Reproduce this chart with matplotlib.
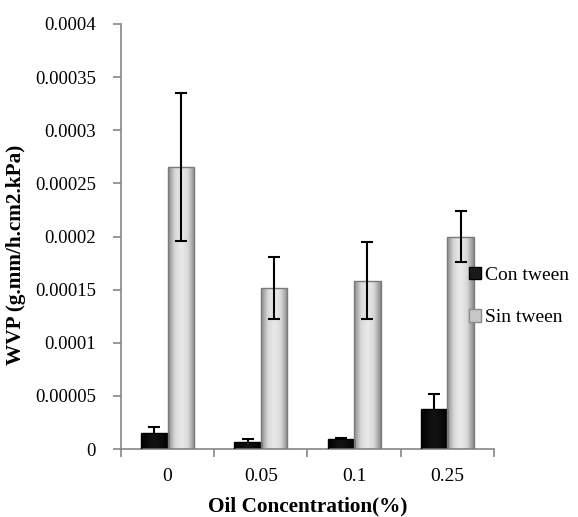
import numpy as np
import matplotlib
matplotlib.use("Agg")
import matplotlib.pyplot as plt
from matplotlib.patches import Patch
from matplotlib.colors import LinearSegmentedColormap

categories = ["0", "0.05", "0.1", "0.25"]
con_tween = [0.0000148, 0.0000069, 0.0000091, 0.0000374]
con_err = [0.0000059, 0.0000022, 0.0000016, 0.0000141]
sin_tween = [0.0002655, 0.0001513, 0.0001585, 0.0002000]
sin_err = [0.0000700, 0.0000290, 0.0000365, 0.0000240]
series_names = ["Con tween", "Sin tween"]

plt.rcParams['font.family'] = ['Liberation Serif', 'DejaVu Serif']

fig = plt.figure(figsize=(5.78, 5.17), dpi=100)
ax = fig.add_axes([0.2093, 0.1315, 0.6454, 0.8221])

x = np.arange(len(categories))
width = 0.284

grey_cmap = LinearSegmentedColormap.from_list("g", ["#8a8a8a", "#d8d8d8", "#eaeaea", "#d8d8d8", "#8a8a8a"])
black_cmap = LinearSegmentedColormap.from_list("b", ["#000000", "#0c0c0c", "#141414", "#0c0c0c", "#000000"])


def shaded_bars(xs, vals, cmap, edge):
    bars = ax.bar(xs, vals, width, color="none", edgecolor=edge, linewidth=1.0, zorder=3)
    grad = np.linspace(0, 1, 64).reshape(1, -1)
    for b in bars:
        x0, y0 = b.get_x(), b.get_y()
        w, h = b.get_width(), b.get_height()
        im = ax.imshow(grad, cmap=cmap, aspect="auto", extent=[x0, x0 + w, y0, y0 + h],
                       zorder=2, interpolation="bilinear")
        im.set_clip_path(b)
    return bars


shaded_bars(x - width / 2, con_tween, black_cmap, "#000000")
shaded_bars(x + width / 2, sin_tween, grey_cmap, "#7a7a7a")

# con tween error bars sit behind the dark bars, so only the upper half shows
ax.errorbar(x - width / 2, con_tween, yerr=con_err, fmt="none", ecolor="black",
            elinewidth=1.5, capsize=4.5, capthick=1.5, zorder=1.5)
ax.errorbar(x + width / 2, sin_tween, yerr=sin_err, fmt="none", ecolor="black",
            elinewidth=1.5, capsize=4.5, capthick=1.5, zorder=4)

ax.set_xlim(-0.5, len(categories) - 0.5)
ax.set_ylim(0, 0.0004)
ax.set_yticks(np.arange(0, 0.00041, 0.00005))
ax.set_yticklabels(["0", "0.00005", "0.0001", "0.00015", "0.0002",
                    "0.00025", "0.0003", "0.00035", "0.0004"])
ax.set_xticks(x)
ax.set_xticklabels(categories)
ax.set_xticks(np.arange(-0.5, len(categories), 1.0), minor=True)

for s in ["top", "right"]:
    ax.spines[s].set_visible(False)
for s in ["left", "bottom"]:
    ax.spines[s].set_color("#868686")
    ax.spines[s].set_linewidth(1.2)

ax.tick_params(axis="y", direction="out", length=6, width=1.2, color="#868686",
               labelsize=13.5, pad=12)
ax.tick_params(axis="x", which="major", length=0, labelsize=14, pad=14)
ax.tick_params(axis="x", which="minor", direction="out", length=6, width=1.2, color="#868686")

ax.set_xlabel("Oil Concentration(%)", fontsize=15.3, fontweight="bold", labelpad=8)
ax.set_ylabel("WVP (g.mm/h.cm2.kPa)", fontsize=15.3, fontweight="bold")
ax.yaxis.set_label_coords(-0.255, 0.456)

handles = [Patch(facecolor="#1a1a1a", edgecolor="#000000"),
           Patch(facecolor="#c8c8c8", edgecolor="#8a8a8a")]
fig.legend(handles, series_names, loc="center left", bbox_to_anchor=(0.795, 0.426),
           frameon=False, fontsize=14, handlelength=0.6, handleheight=0.6,
           handletextpad=0.2, labelspacing=1.3, borderpad=0)

fig.savefig("out.png", dpi=100)
